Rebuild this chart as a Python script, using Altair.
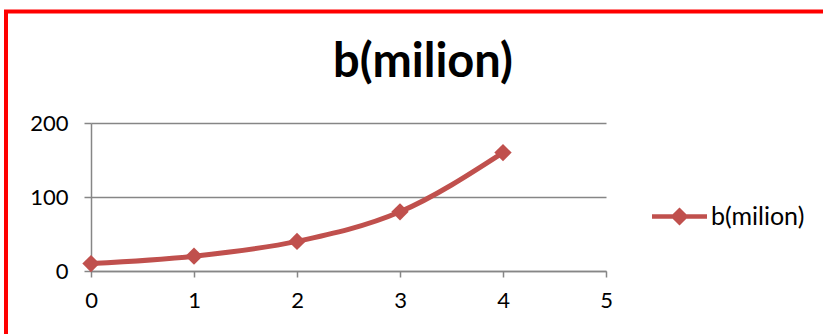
import altair as alt
import pandas as pd

x_vals = [0, 1, 2, 3, 4]
b_vals = [10, 20, 40, 80, 160]
series = ["b(milion)"] * 5
x_ticks = [0, 1, 2, 3, 4, 5]
y_ticks = [0, 100, 200]
title_text = ["b(milion)"]

RED = "#C0504D"
GRAY = "#868686"
FONT = "Lato"

df = pd.DataFrame({"x": x_vals, "b": b_vals, "series": series})

base = alt.Chart(df).encode(
    x=alt.X(
        "x:Q",
        scale=alt.Scale(domain=[0, 5], nice=False, zero=False),
        axis=alt.Axis(values=x_ticks, title=None, grid=False, tickSize=6,
                      labelPadding=13, format="d", labelFlush=False),
    ),
    y=alt.Y(
        "b:Q",
        scale=alt.Scale(domain=[0, 200], nice=False),
        axis=alt.Axis(values=y_ticks, title=None, grid=True, tickSize=7,
                      labelPadding=16, format="d", labelFlush=False),
    ),
)

line = base.mark_line(interpolate="monotone", strokeWidth=5, color=RED)

legend_symbol = ("M-1,-0.085L1,-0.085L1,0.085L-1,0.085Z "
                 "M0,-0.33L0.33,0L0,0.33L-0.33,0Z")

points = base.mark_point(shape="diamond", filled=True, size=300, opacity=1).encode(
    color=alt.Color(
        "series:N",
        scale=alt.Scale(range=[RED]),
        legend=alt.Legend(
            title=None, orient="none", legendX=561, legendY=66,
            symbolType=legend_symbol, symbolSize=3025, symbolFillColor=RED,
            symbolStrokeWidth=0, symbolOpacity=1,
            labelFontSize=25, labelFont=FONT, labelColor="black",
            labelOffset=4, padding=0, offset=0,
        ),
    )
)

border = alt.Chart(pd.DataFrame({"a": [0]})).mark_rect(
    filled=False, stroke="#FF0000", strokeWidth=4
).encode(
    x=alt.value(-85), x2=alt.value(760),
    y=alt.value(-111.5), y2=alt.value(240),
)

title = alt.Chart(pd.DataFrame({"t": title_text})).mark_text(
    font=FONT, fontSize=47, fontWeight="bold", color="black",
    align="center", baseline="alphabetic",
).encode(text="t:N", x=alt.value(332), y=alt.value(-46))

chart = alt.layer(border, title, line, points).properties(
    width=515,
    height=148,
    autosize=alt.AutoSizeParams(type="none"),
    padding={"left": 91, "top": 123, "right": 217, "bottom": 63},
    background="white",
).configure_view(stroke=None).configure_axis(
    labelFont=FONT, labelFontSize=22, labelColor="black",
    domainColor=GRAY, domainWidth=1.5, tickColor=GRAY, tickWidth=1.5,
    gridColor=GRAY, gridWidth=1.5,
)

chart.save("out.html", embed_options={"renderer": "svg", "actions": False})
